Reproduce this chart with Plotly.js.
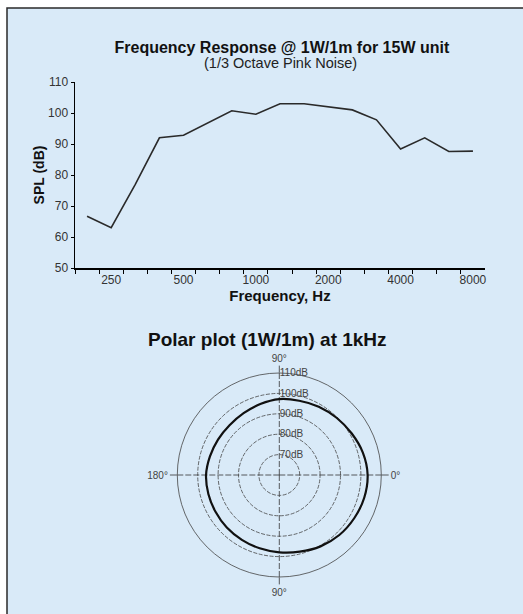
<!DOCTYPE html>
<html>
<head>
<meta charset="utf-8">
<script src="https://cdn.plot.ly/plotly-3.0.1.min.js"></script>
<style>html,body{margin:0;padding:0;background:#fff;}#chart{width:523px;height:614px;}</style>
</head>
<body>
<div id="chart"></div>
<script>
// 1/3-octave frequency bands (Hz)
var freqBands = ['200','250','315','400','500','630','800','1000','1250','1600','2000','2500','3150','4000','5000','6300','8000'];
// SPL (dB) at 1W/1m
var splValues = [66.7, 63.0, 77.0, 92.0, 92.8, 96.8, 100.7, 99.6, 103.0, 103.0, 102.0, 101.0, 97.8, 88.4, 92.0, 87.6, 87.7];
// labelled x ticks
var freqTickText = ['', '250', '', '', '500', '', '', '1000', '', '', '2000', '', '', '4000', '', '', '8000'];
// y ticks
var splTicks = [50, 60, 70, 80, 90, 100, 110];

// polar response at 1 kHz
var polarAngles = [0, 15, 30, 45, 60, 75, 90, 105, 120, 135, 150, 165, 180, 195, 210, 225, 240, 255, 270, 285, 300, 315, 330, 345, 360];
var polarSPL = [103.3, 102.4, 100.9, 99.7, 98.7, 97.7, 97.2, 96.0, 95.0, 94.5, 94.7, 95.2, 95.9, 96.0, 96.1, 96.4, 96.7, 97.2, 97.9, 98.9, 100.4, 101.6, 102.4, 103.1, 103.3];
var polarRingVals = [70, 80, 90, 100, 110];
var polarRingText = ['70dB', '80dB', '90dB', '100dB', '110dB'];
var polarAngleVals = [0, 90, 180, 270];
var polarAngleText = ['0°', '90°', '180°', '90°'];

var FONT = 'Liberation Sans, Arial, sans-serif';

var traces = [
  {
    type: 'scatter', mode: 'lines',
    x: freqBands, y: splValues,
    line: {color: '#2a2a2a', width: 1.6},
    xaxis: 'x', yaxis: 'y', hoverinfo: 'skip'
  },
  {
    type: 'scatterpolar', mode: 'lines',
    theta: polarAngles, r: polarSPL,
    line: {color: '#111', width: 2.2, shape: 'spline'},
    subplot: 'polar', hoverinfo: 'skip'
  }
];

var layout = {
  width: 523, height: 614,
  margin: {l: 0, r: 0, t: 0, b: 0},
  paper_bgcolor: '#ffffff',
  plot_bgcolor: 'rgba(0,0,0,0)',
  showlegend: false,
  font: {family: FONT, color: '#222'},
  title: {
    text: 'Frequency Response @ 1W/1m for 15W unit',
    x: 0.539, xanchor: 'center', xref: 'paper',
    y: 0.9235, yanchor: 'middle', yref: 'paper',
    font: {family: FONT, size: 16, weight: 'bold', color: '#111'}
  },
  annotations: [
    {text: '(1/3 Octave Pink Noise)', xref: 'paper', yref: 'paper', x: 0.536, y: 0.8974,
     xanchor: 'center', yanchor: 'middle', showarrow: false,
     font: {family: FONT, size: 14.5, color: '#222'}},
    {text: 'Polar plot (1W/1m) at 1kHz', xref: 'paper', yref: 'paper', x: 0.511, y: 0.4463,
     xanchor: 'center', yanchor: 'middle', showarrow: false,
     font: {family: FONT, size: 19, weight: 'bold', color: '#111'}}
  ],
  shapes: [
    {type: 'rect', xref: 'paper', yref: 'paper', x0: 7/523, x1: 1.05, y0: -0.05, y1: 1 - 8/614,
     fillcolor: '#d9eaf8', line: {color: '#2a2a2a', width: 1.5}, layer: 'below'}
  ],
  xaxis: {
    domain: [75/523, 485/523],
    type: 'category',
    range: [-0.5, 16.5],
    tickmode: 'array', tickvals: freqBands, ticktext: freqTickText,
    tickson: 'boundaries', tickangle: 0,
    ticks: 'outside', ticklen: 4, tickwidth: 1, tickcolor: '#000',
    showline: true, linecolor: '#000', linewidth: 1.5,
    showgrid: false, zeroline: false,
    tickfont: {family: FONT, size: 12, color: '#333'},
    title: {text: 'Frequency, Hz', font: {family: FONT, size: 15, weight: 'bold', color: '#111'}, standoff: 2},
    fixedrange: true
  },
  yaxis: {
    domain: [1 - 268/614, 1 - 82/614],
    range: [50, 110],
    tickmode: 'array', tickvals: splTicks,
    ticks: 'outside', ticklen: 3, tickwidth: 1, tickcolor: '#000',
    showline: true, linecolor: '#000', linewidth: 1.5,
    showgrid: false, zeroline: false,
    tickfont: {family: FONT, size: 12, color: '#333'},
    title: {text: 'SPL (dB)', font: {family: FONT, size: 14, weight: 'bold', color: '#111'}, standoff: 0},
    fixedrange: true
  },
  polar: {
    domain: {x: [177.3/523, 381.3/523], y: [37/614, 241/614]},
    bgcolor: 'rgba(0,0,0,0)',
    radialaxis: {
      range: [60, 110],
      tickmode: 'array', tickvals: polarRingVals, ticktext: polarRingText,
      angle: 90, tickangle: 90,
      showline: false, ticks: '',
      showgrid: true, gridcolor: '#444', gridwidth: 0.8, griddash: '4px,1.5px',
      tickfont: {family: FONT, size: 10, color: '#444'}
    },
    angularaxis: {
      rotation: 0, direction: 'counterclockwise',
      tickmode: 'array', tickvals: polarAngleVals, ticktext: polarAngleText,
      ticks: 'outside', ticklen: 7, tickcolor: '#333', tickwidth: 0.8,
      showline: true, linecolor: '#444', linewidth: 0.8,
      showgrid: true, gridcolor: '#333', gridwidth: 0.8, griddash: '6px,2px',
      tickfont: {family: FONT, size: 10, color: '#444'}
    }
  }
};

Plotly.newPlot('chart', traces, layout, {staticPlot: true, displayModeBar: false});
</script>
</body>
</html>
